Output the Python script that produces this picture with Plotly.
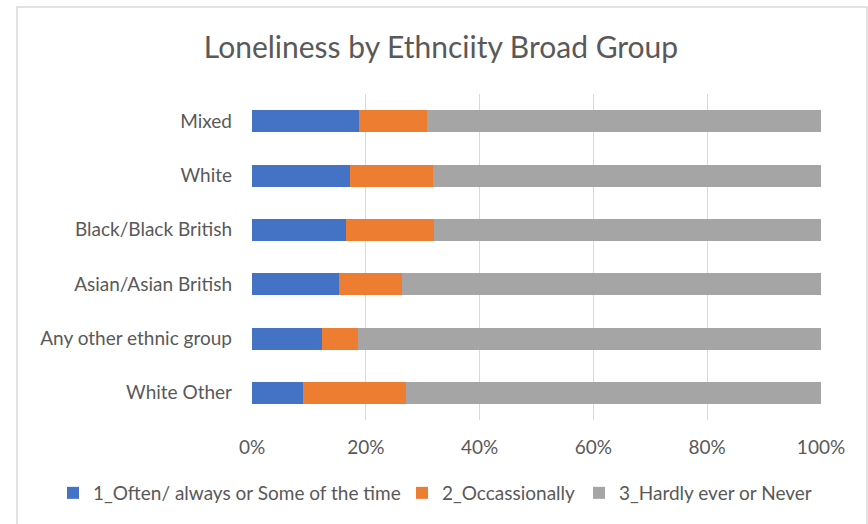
import plotly.graph_objects as go

categories = ["Mixed", "White", "Black/Black British", "Asian/Asian British",
              "Any other ethnic group", "White Other"]
often = [18.8, 17.3, 16.5, 15.3, 12.3, 9.0]
occasionally = [12.0, 14.5, 15.5, 11.1, 6.4, 18.1]
hardly = [69.2, 68.2, 68.0, 73.6, 81.3, 72.9]
series_names = ["1_Often/ always or Some of the time", "2_Occassionally",
                "3_Hardly ever or Never"]
colors = ["#4472C4", "#ED7D31", "#A5A5A5"]
tick_vals = [0, 20, 40, 60, 80, 100]
tick_text = ["0%", "20%", "40%", "60%", "80%", "100%"]

FONT = "Lato"
GREY = "#595959"

W, H = 868, 524
L, R, T, B = 252, 47, 94, 104
pw = W - L - R
ph = H - T - B

def px_to_paper_x(px):
    return (px - L) / pw

def px_to_paper_y(py):
    return (H - B - py) / ph

legend_ids = ["legend", "legend2", "legend3"]
legend_text_x = [93, 442, 619]

fig = go.Figure()
for name, vals, col, lid in zip(series_names, [often, occasionally, hardly],
                                colors, legend_ids):
    fig.add_trace(go.Bar(
        y=categories, x=vals, name=name, orientation="h",
        marker=dict(color=col, line=dict(width=0)),
        legend=lid,
    ))

legend_common = dict(orientation="h", xref="container", yref="container",
                     xanchor="left", y=1 - 493 / H, yanchor="middle",
                     font=dict(size=19, color=GREY, family=FONT),
                     bgcolor="rgba(0,0,0,0)")

layout_legends = {}
for lid, tx in zip(legend_ids, legend_text_x):
    layout_legends[lid] = dict(x=(tx - 40) / W, **legend_common)

fig.update_layout(
    width=W, height=H,
    barmode="stack",
    bargap=0.595,
    plot_bgcolor="white", paper_bgcolor="white",
    margin=dict(l=L, r=R, t=T, b=B, autoexpand=False),
    font=dict(family=FONT, color=GREY, size=19),
    title=dict(text="Loneliness by Ethnciity Broad Group",
               x=441 / W, xanchor="center", xref="container",
               y=1 - 47 / H, yanchor="middle", yref="container",
               font=dict(size=30, color=GREY, family=FONT)),
    xaxis=dict(range=[0, 100], tickvals=tick_vals, ticktext=tick_text,
               showgrid=True, gridcolor="#D9D9D9", gridwidth=1,
               zeroline=False, showline=False, ticks="",
               ticklabelstandoff=14,
               tickfont=dict(size=19, color=GREY), fixedrange=True),
    yaxis=dict(categoryorder="array", categoryarray=categories[::-1],
               showgrid=False, ticks="", showline=False,
               ticklabelstandoff=19,
               tickfont=dict(size=19, color=GREY)),
    showlegend=True,
    shapes=[dict(type="rect", xref="paper", yref="paper",
                 x0=px_to_paper_x(17), x1=px_to_paper_x(867),
                 y0=px_to_paper_y(540), y1=px_to_paper_y(7),
                 line=dict(color="#D9D9D9", width=1.5), layer="below")],
    **layout_legends,
)

fig.write_html("out.html",
               config={"displayModeBar": False},
               post_script="document.body.style.margin='0';")
